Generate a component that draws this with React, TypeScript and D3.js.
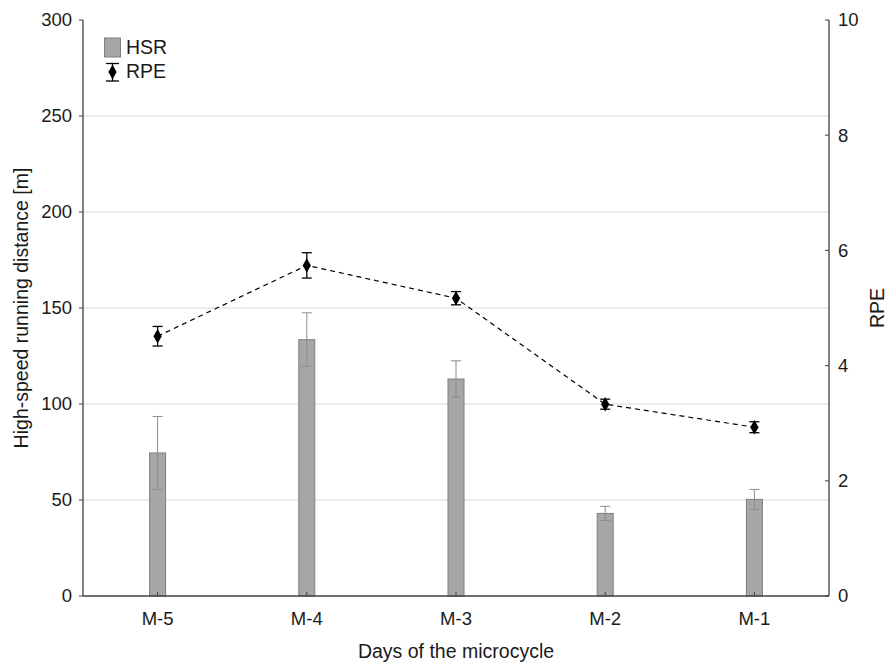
import React from "react";
import * as d3 from "d3";

const categories = ["M-5", "M-4", "M-3", "M-2", "M-1"];
const hsrMean = [74.5, 133.5, 113, 43, 50.3];
const hsrErr = [19, 14, 9.5, 3.7, 5.2];
const rpeMean = [4.51, 5.74, 5.17, 3.33, 2.93];
const rpeErr = [0.17, 0.22, 0.115, 0.087, 0.095];
const leftTicks = [0, 50, 100, 150, 200, 250, 300];
const rightTicks = [0, 2, 4, 6, 8, 10];

const W = 888;
const H = 664;
const M = { left: 83, right: 829, top: 20, bottom: 596 };
const FONT = "Liberation Sans, Arial, sans-serif";
const AXIS = "#404040";
const TEXT = "#1a1a1a";
const TICK_FS = 18.5;
const TITLE_FS = 19.5;

export default function App() {
  const x = d3.scaleBand<string>().domain(categories).range([M.left, M.right]);
  const yL = d3.scaleLinear().domain([0, 300]).range([M.bottom, M.top]);
  const yR = d3.scaleLinear().domain([0, 10]).range([M.bottom, M.top]);
  const cx = (c: string) => (x(c) as number) + x.bandwidth() / 2;
  const barW = 16;

  const line = d3
    .line<number>()
    .x((_, i) => cx(categories[i]))
    .y((d) => yR(d));

  const diamond = d3.symbol().type(d3.symbolDiamond).size(60)();

  return (
    <svg width={W} height={H} style={{ position: "absolute", left: 0, top: 0 }}>
      <rect width={W} height={H} fill="#fff" />
      {/* gridlines */}
      {leftTicks
        .filter((t) => t > 0 && t < 300)
        .map((t) => (
          <line key={t} x1={M.left} x2={M.right} y1={yL(t)} y2={yL(t)} stroke="#d9d9d9" strokeWidth={1} />
        ))}
      {/* bars */}
      {categories.map((c, i) => (
        <g key={c}>
          <rect
            x={cx(c) - barW / 2}
            y={yL(hsrMean[i])}
            width={barW}
            height={yL(0) - yL(hsrMean[i])}
            fill="#a6a6a6"
            stroke="#7f7f7f"
            strokeWidth={1}
          />
          <line x1={cx(c)} x2={cx(c)} y1={yL(hsrMean[i] + hsrErr[i])} y2={yL(hsrMean[i] - hsrErr[i])} stroke="#8c8c8c" strokeWidth={1} />
          <line x1={cx(c) - 5} x2={cx(c) + 5} y1={yL(hsrMean[i] + hsrErr[i])} y2={yL(hsrMean[i] + hsrErr[i])} stroke="#8c8c8c" strokeWidth={1} />
          <line x1={cx(c) - 5} x2={cx(c) + 5} y1={yL(hsrMean[i] - hsrErr[i])} y2={yL(hsrMean[i] - hsrErr[i])} stroke="#8c8c8c" strokeWidth={1} />
        </g>
      ))}
      {/* RPE line */}
      <path d={line(rpeMean) || ""} fill="none" stroke="#000" strokeWidth={1.2} strokeDasharray="5,4" />
      {categories.map((c, i) => (
        <g key={c}>
          <line x1={cx(c)} x2={cx(c)} y1={yR(rpeMean[i] + rpeErr[i])} y2={yR(rpeMean[i] - rpeErr[i])} stroke="#000" strokeWidth={1.3} />
          <line x1={cx(c) - 5} x2={cx(c) + 5} y1={yR(rpeMean[i] + rpeErr[i])} y2={yR(rpeMean[i] + rpeErr[i])} stroke="#000" strokeWidth={1.3} />
          <line x1={cx(c) - 5} x2={cx(c) + 5} y1={yR(rpeMean[i] - rpeErr[i])} y2={yR(rpeMean[i] - rpeErr[i])} stroke="#000" strokeWidth={1.3} />
          <path d={diamond || ""} transform={`translate(${cx(c)},${yR(rpeMean[i])})`} fill="#000" />
        </g>
      ))}
      {/* axes */}
      <line x1={M.left} x2={M.left} y1={M.top} y2={M.bottom} stroke={AXIS} strokeWidth={1.3} />
      <line x1={M.right} x2={M.right} y1={M.top} y2={M.bottom} stroke={AXIS} strokeWidth={1.3} />
      <line x1={M.left} x2={M.right} y1={M.bottom} y2={M.bottom} stroke={AXIS} strokeWidth={1.3} />
      {leftTicks.map((t) => (
        <g key={t}>
          <line x1={M.left - 4} x2={M.left} y1={yL(t)} y2={yL(t)} stroke={AXIS} strokeWidth={1} />
          <text x={M.left - 11} y={yL(t)} dy="0.35em" textAnchor="end" fontFamily={FONT} fontSize={TICK_FS} fill={TEXT}>
            {t}
          </text>
        </g>
      ))}
      {rightTicks.map((t) => (
        <g key={t}>
          <line x1={M.right - 4} x2={M.right} y1={yR(t)} y2={yR(t)} stroke={AXIS} strokeWidth={1} />
          <text x={M.right + 9} y={yR(t)} dy="0.35em" textAnchor="start" fontFamily={FONT} fontSize={TICK_FS} fill={TEXT}>
            {t}
          </text>
        </g>
      ))}
      {categories.map((c) => (
        <g key={c}>
          <line x1={cx(c)} x2={cx(c)} y1={M.bottom - 4} y2={M.bottom} stroke={AXIS} strokeWidth={1} />
          <text x={cx(c)} y={625} textAnchor="middle" fontFamily={FONT} fontSize={TICK_FS} fill={TEXT}>
            {c}
          </text>
        </g>
      ))}
      {/* axis titles */}
      <text x={456} y={658} textAnchor="middle" fontFamily={FONT} fontSize={TITLE_FS} fill={TEXT}>
        Days of the microcycle
      </text>
      <text transform={`translate(28,${(M.top + M.bottom) / 2}) rotate(-90)`} textAnchor="middle" fontFamily={FONT} fontSize={TITLE_FS} fill={TEXT}>
        High-speed running distance [m]
      </text>
      <text transform={`translate(884,${(M.top + M.bottom) / 2}) rotate(-90)`} textAnchor="middle" fontFamily={FONT} fontSize={TITLE_FS} fill={TEXT}>
        RPE
      </text>
      {/* legend */}
      <rect x={104.5} y={38} width={16} height={19} fill="#a6a6a6" stroke="#7f7f7f" strokeWidth={1} />
      <text x={126} y={54} fontFamily={FONT} fontSize={TITLE_FS} fill={TEXT}>
        HSR
      </text>
      <line x1={112.5} x2={112.5} y1={63.5} y2={81} stroke="#000" strokeWidth={1.3} />
      <line x1={106} x2={119} y1={63.5} y2={63.5} stroke="#000" strokeWidth={1.3} />
      <line x1={106} x2={119} y1={81} y2={81} stroke="#000" strokeWidth={1.3} />
      <path d={diamond || ""} transform="translate(112.5,72)" fill="#000" />
      <text x={126} y={78} fontFamily={FONT} fontSize={TITLE_FS} fill={TEXT}>
        RPE
      </text>
    </svg>
  );
}
